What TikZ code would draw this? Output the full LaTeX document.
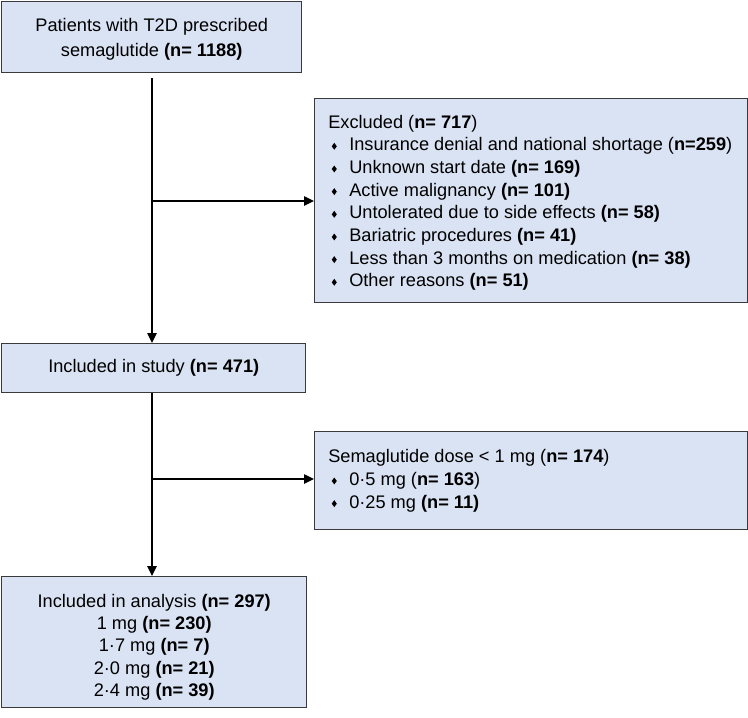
\documentclass[tikz,border=0pt]{standalone}
\usepackage{fontspec}
\setmainfont{Liberation Sans}
\usetikzlibrary{arrows.meta}
\definecolor{boxfill}{HTML}{DAE3F3}
\definecolor{boxline}{HTML}{3A3A3A}
\newcommand{\bl}{\makebox[15.75pt][l]{\hspace{2.6pt}\tikz[baseline=-0.75pt]\fill (0,0) -- (1.9pt,2.6pt) -- (0,5.2pt) -- (-1.9pt,2.6pt) -- cycle;}}
\begin{document}
\begin{tikzpicture}[x=0.75pt,y=-0.75pt,
  flowbox/.style={draw=boxline,fill=boxfill,line width=1.1pt,inner sep=0pt,font=\fontsize{13.65pt}{17pt}\selectfont},
  boxtext/.style={inner sep=0pt,font=\fontsize{13.65pt}{17pt}\selectfont},
  flowarrow/.style={line width=1.1pt,-{Triangle[length=7.5pt,width=7pt]}}]
\useasboundingbox (0,0) rectangle (748,717);
\node[flowbox,minimum width=300*0.75pt,minimum height=71*0.75pt,anchor=north west] (pat) at (1,1) {};
\node[boxtext,align=center,font=\fontsize{13.65pt}{18.5pt}\selectfont] (pattext) at ([yshift=-2*0.75pt]pat.center)
  {Patients with T2D prescribed\\semaglutide \textbf{(n= 1188)}};
\node[flowbox,minimum width=304*0.75pt,minimum height=49*0.75pt,anchor=north west] (inc) at (1,343)
  {Included in study \textbf{(n= 471)}};
\node[flowbox,minimum width=305*0.75pt,minimum height=131*0.75pt,anchor=north west] (ana) at (1,576) {};
\node[boxtext,align=center,font=\fontsize{13.65pt}{16.8pt}\selectfont] (anatext) at ([yshift=-5*0.75pt]ana.center)
  {Included in analysis \textbf{(n= 297)}\\1 mg \textbf{(n= 230)}\\1·7 mg \textbf{(n= 7)}\\2·0 mg \textbf{(n= 21)}\\2·4 mg \textbf{(n= 39)}};
\node[flowbox,minimum width=433*0.75pt,minimum height=204*0.75pt,anchor=north west] (exc) at (314,98) {};
\node[boxtext,anchor=west,align=left] (exctext) at ([xshift=14*0.75pt,yshift=-2*0.75pt]exc.west)
  {Excluded (\textbf{n= 717})\\
   \bl Insurance denial and national shortage (\textbf{n=259})\\
   \bl Unknown start date \textbf{(n= 169)}\\
   \bl Active malignancy \textbf{(n= 101)}\\
   \bl Untolerated due to side effects \textbf{(n= 58)}\\
   \bl Bariatric procedures \textbf{(n= 41)}\\
   \bl Less than 3 months on medication \textbf{(n= 38)}\\
   \bl Other reasons \textbf{(n= 51)}};
\node[flowbox,minimum width=433*0.75pt,minimum height=98*0.75pt,anchor=north west] (dose) at (314,431) {};
\node[boxtext,anchor=west,align=left] (dosetext) at ([xshift=14*0.75pt]dose.west)
  {Semaglutide dose < 1 mg (\textbf{n= 174})\\
   \bl 0·5 mg (\textbf{n= 163})\\
   \bl 0·25 mg \textbf{(n= 11)}};
\coordinate (b1) at (152,201);
\coordinate (b2) at (152,479);
\draw[flowarrow] (pat.south -| b1) ++(0,5) -- (inc.north -| b1);
\draw[flowarrow] (inc.south -| b2) -- (ana.north -| b2);
\draw[flowarrow] (b1) -- (b1 -| exc.west);
\draw[flowarrow] (b2) -- (b2 -| dose.west);
\end{tikzpicture}
\end{document}
